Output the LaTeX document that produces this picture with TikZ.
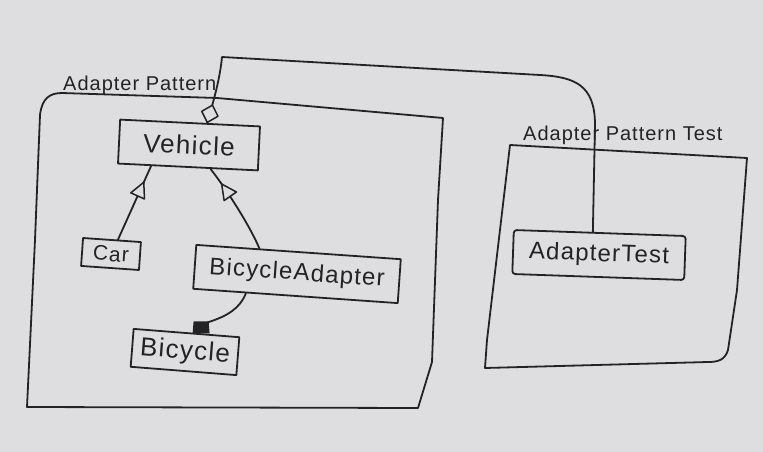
\documentclass[tikz,border=0pt]{standalone}
\usepackage{fontspec}
\setmainfont{Liberation Sans}[LetterSpace=5]
\usetikzlibrary{calc,decorations.markings}
\definecolor{paper}{RGB}{222,222,224}
\definecolor{ink}{RGB}{35,35,38}
\begin{document}
\begin{tikzpicture}[x=1pt,y=-1pt,
  inkline/.style={draw=ink,line width=1.8pt,line join=round,line cap=round},
  cls/.style={inkline, inner sep=0pt, text=ink, align=center},
  pkglabel/.style={text=ink, font=\fontsize{20}{22}\selectfont, inner sep=0pt, anchor=base west},
  gen/.style={postaction={decorate}, decoration={markings, mark=at position #1 with {\draw[draw=ink,line width=1.5pt,line join=round,fill=paper] (0,0) -- (-15,7.5) -- (-15,-7.5) -- cycle;}}},
  agg/.style={postaction={decorate}, decoration={markings, mark=at position 0.999 with {\draw[draw=ink,line width=1.5pt,line join=round,fill=paper] (0,0) -- (-9,8.5) -- (-18,0) -- (-9,-8.5) -- cycle;}}},
]
\useasboundingbox (0,0) rectangle (763,452);
\fill[paper] (0,0) rectangle (763,452);

% classes
\node[cls, minimum width=140pt, minimum height=44pt, rotate=-2.8, font=\fontsize{26}{28}\selectfont] (veh) at (189,145) {Vehicle};
\node[cls, minimum width=58pt, minimum height=28pt, rotate=-4, font=\fontsize{21}{24}\selectfont] (car) at (111,254) {Car};
\node[cls, minimum width=205pt, minimum height=44pt, rotate=-4, font=\fontsize{24}{27}\selectfont] (ba) at (297,274) {BicycleAdapter};
\node[cls, minimum width=106pt, minimum height=38pt, rotate=-4.5, font=\fontsize{26}{28}\selectfont] (bk) at (185,352) {Bicycle};
\node[cls, minimum width=172pt, minimum height=44pt, rotate=-2, rounded corners=3pt, font=\fontsize{24}{26}\selectfont] (at) at (599,255) {AdapterTest};

% packages
\draw[inkline] (27,407) -- (35,240) -- (40,115) .. controls (42,98) and (50,93) .. (62,93) -- (217,98) -- (443,118) -- (438,200) -- (432,362) -- (418,408) -- cycle;
\node[pkglabel] (lp) at (63,90) {Adapter Pattern};
\draw[inkline] (510,145) -- (747,158) -- (737,290) -- (728,350) .. controls (725,360) and (718,362) .. (708,362) -- (485,368) -- (487,340) -- cycle;
\node[pkglabel, font=\fontsize{20}{23}\selectfont] (lt) at (523,140) {Adapter Pattern Test};

% generalisations
\draw[inkline, gen=0.78] ($(car.north west)!0.6!(car.north east)$) -- ($(veh.south west)!0.24!(veh.south east)$);
\draw[inkline, gen=0.8] ($(ba.north west)!0.31!(ba.north east)$) .. controls (248,222) and (224,186) .. ($(veh.south west)!0.66!(veh.south east)$);

% aggregation AdapterTest -> Vehicle
\draw[inkline, agg] ($(at.north west)!0.46!(at.north east)$) -- (595,125) .. controls (595,85) and (575,77) .. (540,75) -- (222,57) .. controls (220,78) and (214,100) .. ($(veh.north west)!0.62!(veh.north east)$);

% composition BicycleAdapter -> Bicycle
\coordinate (bkt) at ($(bk.north west)!0.64!(bk.north east)$);
\fill[ink] ($(bkt)+(-9,0)$) -- ($(bkt)+(8,0)$) -- ($(bkt)+(7,-12)$) -- ($(bkt)+(-8,-12)$) -- cycle;
\draw[inkline] ($(ba.south west)!0.26!(ba.south east)$) .. controls (240,308) and (228,316) .. ($(bkt)+(6,-11)$);
\end{tikzpicture}
\end{document}
